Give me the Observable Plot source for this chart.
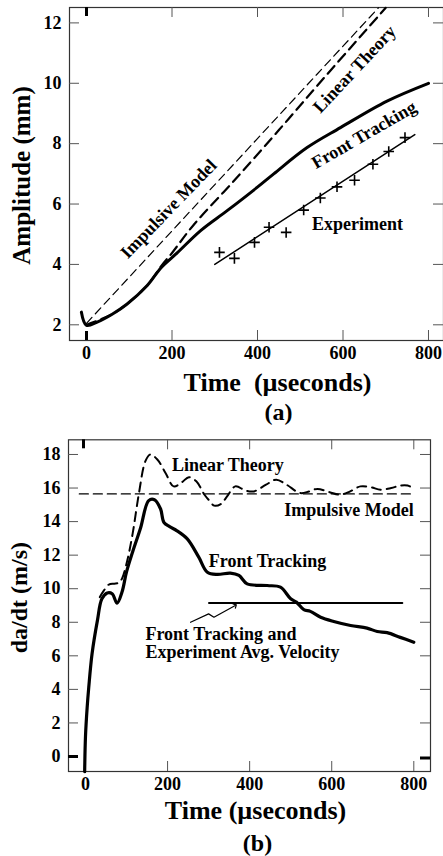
<!DOCTYPE html>
<html><head><meta charset="utf-8">
<script src="https://cdn.jsdelivr.net/npm/d3@7"></script>
<script src="https://cdn.jsdelivr.net/npm/@observablehq/plot@0.6"></script>
<style>
html,body{margin:0;padding:0;background:#fff;}
body{width:443px;height:856px;overflow:hidden;}
svg{display:block;}
svg text{font-family:'Liberation Serif','Times New Roman',Times,serif !important;font-weight:bold !important;fill:#000;}
</style></head><body>
<div id="a"></div><div id="b"></div>
<script>
// ---------- Panel (a): amplitude ----------
const timeTicks = [0, 200, 400, 600, 800];
const ampTicks = [2, 4, 6, 8, 10, 12];

const impulsiveA_t = [0, 683];
const impulsiveA_a = [2.05, 12.5];

const linearA_t = [0, 60, 95, 142, 175, 200, 250, 345, 450, 560, 700];
const linearA_a = [2.0, 2.35, 2.69, 3.3, 3.95, 4.38, 5.3, 6.77, 8.45, 10.25, 12.5];

const frontA_t = [-12, 0, 25, 60, 95, 142, 175, 212, 267, 329, 399, 438, 516, 594, 703, 800];
const frontA_a = [2.42, 1.98, 2.09, 2.35, 2.69, 3.3, 3.9, 4.38, 5.12, 5.78, 6.55, 7.0, 7.87, 8.53, 9.41, 10.0];

const expLine_t = [300, 768];
const expLine_a = [4.0, 8.3];

const expPts_t = [311, 346, 393, 427, 467, 508, 547, 586, 627, 670, 707, 745];
const expPts_a = [4.4, 4.2, 4.73, 5.23, 5.06, 5.8, 6.2, 6.57, 6.79, 7.32, 7.74, 8.2];

// ---------- Panel (b): velocity ----------
const velTicks = [0, 2, 4, 6, 8, 10, 12, 14, 16, 18];

const impulsiveB_t = [-15, 800];
const impulsiveB_v = [15.65, 15.65];

const linearB_t = [35, 45, 57, 70, 81, 89, 102, 115, 130, 146, 158, 175, 195, 215, 235, 252, 270, 290, 300, 314, 330, 345, 365, 390, 410, 440, 465, 490, 523, 545, 565, 595, 621, 645, 670, 695, 719, 745, 767, 785, 800];
const linearB_v = [9.5, 9.9, 10.25, 10.3, 10.35, 10.6, 11.7, 13.3, 15.65, 17.6, 18.0, 17.7, 16.9, 16.1, 16.35, 16.65, 16.4, 15.6, 15.3, 14.95, 15.05, 15.5, 16.1, 15.85, 15.8, 16.2, 16.5, 16.2, 15.7, 15.8, 15.95, 15.75, 15.6, 15.8, 16.1, 16.05, 15.9, 16.0, 16.15, 16.15, 15.95];

const frontB_t = [-2, 0, 4, 8, 16, 29, 40, 53, 65, 77, 89, 100, 115, 134, 154, 168, 183, 191, 205, 223, 248, 276, 297, 321, 353, 374, 394, 443, 475, 500, 514, 532, 548, 573, 605, 646, 686, 711, 735, 767, 800];
const frontB_v = [-0.9, 1.2, 2.9, 4.13, 6.12, 8.1, 9.4, 9.75, 9.7, 9.14, 9.8, 11.0, 12.2, 13.6, 15.25, 15.3, 14.75, 13.96, 13.7, 13.45, 12.97, 11.88, 10.98, 10.85, 10.93, 10.79, 10.29, 10.19, 10.09, 9.4, 9.2, 8.75, 8.65, 8.3, 8.05, 7.81, 7.65, 7.45, 7.38, 7.1, 6.81];

const avgB_t = [301, 772];
const avgB_v = [9.15, 9.15];

const arrowB_t = [256, 300, 313, 365];
const arrowB_v = [8.0, 8.5, 8.3, 9.0];

// ---------- helpers ----------
const pts = (ts, vs) => ts.map((t, i) => ({t, v: vs[i]}));
const FONT = "'Liberation Serif', 'Times New Roman', Times, serif";
const tickStroke = "#555";

// ---------- chart (a) ----------
const HA = 430, MTA = 7, MBA = 90, MLA = 69, MRA = 0;
const PHA = HA - MTA - MBA, PWA = 443 - MLA - MRA;
const nz = timeTicks.filter(d => d !== 0);

const chartA = Plot.plot({
  width: 443, height: HA,
  marginTop: MTA, marginBottom: MBA, marginLeft: MLA, marginRight: MRA,
  style: {fontFamily: FONT, fontWeight: "bold", fontSize: "18px", color: "#000", background: "#fff"},
  x: {domain: [-39.8, 835.1], label: null},
  y: {domain: [1.48, 12.51], label: null},
  marks: [
    Plot.frame({stroke: "#333", strokeWidth: 1.2}),
    Plot.axisX(timeTicks, {tickSize: 0, tickPadding: 6, fontSize: 18, fontWeight: "bold"}),
    Plot.axisY(ampTicks, {tickSize: 0, tickPadding: 8, fontSize: 18, fontWeight: "bold"}),
    Plot.tickX(nz, {x: d => d, insetTop: PHA - 10, stroke: tickStroke}),
    Plot.tickX(nz, {x: d => d, insetBottom: PHA - 10, stroke: tickStroke}),
    Plot.tickX([0], {x: d => d, insetTop: PHA - 9, strokeWidth: 3, stroke: "#000"}),
    Plot.tickX([0], {x: d => d, insetBottom: PHA - 9, strokeWidth: 3, stroke: "#000"}),
    Plot.tickY(ampTicks, {y: d => d, insetRight: PWA - 10, stroke: tickStroke}),
    Plot.tickY(ampTicks, {y: d => d, insetLeft: PWA - 10, stroke: tickStroke}),
    Plot.line(pts(impulsiveA_t, impulsiveA_a), {x: "t", y: "v", stroke: "#000", strokeWidth: 1.2, strokeDasharray: "8,5"}),
    Plot.line(pts(frontA_t, frontA_a), {x: "t", y: "v", stroke: "#000", strokeWidth: 3, curve: "catmull-rom"}),
    Plot.line(pts(linearA_t, linearA_a), {x: "t", y: "v", stroke: "#000", strokeWidth: 2.2, strokeDasharray: "10,6", curve: "catmull-rom"}),
    Plot.line(pts(expLine_t, expLine_a), {x: "t", y: "v", stroke: "#000", strokeWidth: 1.5}),
    Plot.dot(pts(expPts_t, expPts_a), {x: "t", y: "v", symbol: "plus", r: 3.5, stroke: "#000", strokeWidth: 1.6}),
    Plot.text(["Impulsive Model"], {x: 192, y: 5.84, rotate: -46, fontSize: 18}),
    Plot.text(["Linear Theory"], {x: 627, y: 10.47, rotate: -47, fontSize: 18}),
    Plot.text(["Front Tracking"], {x: 649, y: 8.29, rotate: -30, fontSize: 18}),
    Plot.text(["Experiment"], {x: 634, y: 5.32, fontSize: 18}),
    Plot.text(["Amplitude (mm)"], {frameAnchor: "left", textAnchor: "middle", rotate: -90, dx: -48, dy: 1.5, fontSize: 25}),
    Plot.text(["Time\u00a0 (\u00b5seconds)"], {frameAnchor: "bottom", textAnchor: "middle", dx: 21, dy: 50, fontSize: 26}),
    Plot.text(["(a)"], {frameAnchor: "bottom", textAnchor: "middle", dx: 22, dy: 79, fontSize: 24})
  ]
});
document.getElementById("a").appendChild(chartA);

// ---------- chart (b) ----------
const HB = 426, MTB = 9.3, MBB = 85, MLB = 68, MRB = 13;
const PHB = HB - MTB - MBB, PWB = 443 - MLB - MRB;
const nzv = velTicks.filter(d => d !== 0);

const chartB = Plot.plot({
  width: 443, height: HB,
  marginTop: MTB, marginBottom: MBB, marginLeft: MLB, marginRight: MRB,
  style: {fontFamily: FONT, fontWeight: "bold", fontSize: "18px", color: "#000", background: "#fff"},
  x: {domain: [-41.4, 840.7], label: null},
  y: {domain: [-0.894, 18.875], label: null},
  marks: [
    Plot.frame({stroke: "#333", strokeWidth: 1.2}),
    Plot.axisX(timeTicks, {tickSize: 0, tickPadding: 6, fontSize: 18, fontWeight: "bold"}),
    Plot.axisY(velTicks, {tickSize: 0, tickPadding: 8, fontSize: 18, fontWeight: "bold"}),
    Plot.tickX(nz, {x: d => d, insetTop: PHB - 10, stroke: tickStroke}),
    Plot.tickX(nz, {x: d => d, insetBottom: PHB - 10, stroke: tickStroke}),
    Plot.tickX([0], {x: d => d, insetBottom: PHB - 9, strokeWidth: 3, stroke: "#000", dx: -2}),
    Plot.tickY(nzv, {y: d => d, insetRight: PWB - 10, stroke: tickStroke}),
    Plot.tickY(nzv, {y: d => d, insetLeft: PWB - 10, stroke: tickStroke}),
    Plot.tickY([0], {y: d => d, insetRight: PWB - 10, strokeWidth: 3, stroke: "#000"}),
    Plot.tickY([0], {y: d => d, insetLeft: PWB - 10, strokeWidth: 3, stroke: "#000", dy: 1.5}),
    Plot.line(pts(impulsiveB_t, impulsiveB_v), {x: "t", y: "v", stroke: "#000", strokeWidth: 1.3, strokeDasharray: "9,5"}),
    Plot.line(pts(frontB_t, frontB_v), {x: "t", y: "v", stroke: "#000", strokeWidth: 3.2, curve: "catmull-rom"}),
    Plot.line(pts(linearB_t, linearB_v), {x: "t", y: "v", stroke: "#000", strokeWidth: 2, strokeDasharray: "9,6", curve: "catmull-rom"}),
    Plot.line(pts(avgB_t, avgB_v), {x: "t", y: "v", stroke: "#000", strokeWidth: 2}),
    Plot.line(pts(arrowB_t, arrowB_v), {x: "t", y: "v", stroke: "#000", strokeWidth: 1.2, markerEnd: "arrow"}),
    Plot.text(["Linear Theory"], {x: 347, y: 17.34, fontSize: 18}),
    Plot.text(["Impulsive Model"], {x: 800, y: 14.7, textAnchor: "end", fontSize: 18}),
    Plot.text(["Front Tracking"], {x: 300.5, y: 11.64, textAnchor: "start", fontSize: 18}),
    Plot.text(["Front Tracking and"], {x: 146, y: 7.31, textAnchor: "start", fontSize: 18}),
    Plot.text(["Experiment Avg. Velocity"], {x: 146, y: 6.22, textAnchor: "start", fontSize: 18}),
    Plot.text(["da/dt (m/s)"], {frameAnchor: "left", textAnchor: "middle", rotate: -90, dx: -49, dy: -8, fontSize: 24}),
    Plot.text(["Time (\u00b5seconds)"], {frameAnchor: "bottom", textAnchor: "middle", dx: 6, dy: 47, fontSize: 26}),
    Plot.text(["(b)"], {frameAnchor: "bottom", textAnchor: "middle", dx: 8, dy: 79, fontSize: 24})
  ]
});
document.getElementById("b").appendChild(chartB);
</script></body></html>
